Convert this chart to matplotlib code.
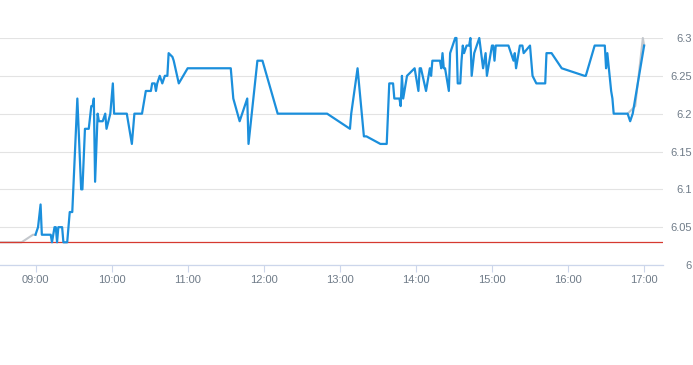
import matplotlib
matplotlib.use("Agg")
import matplotlib.pyplot as plt
import matplotlib.dates as mdates
import pandas as pd

day = "2024-01-02 "

# main intraday series
times = ["09:00", "09:02", "09:04", "09:05", "09:12", "09:13", "09:15", "09:16", "09:17", "09:18",
         "09:21", "09:22", "09:25", "09:27", "09:29", "09:33", "09:36", "09:37", "09:39", "09:42",
         "09:44", "09:45", "09:46", "09:47", "09:49", "09:50", "09:53", "09:55", "09:56", "09:59",
         "10:01", "10:02", "10:12", "10:16", "10:18", "10:24", "10:27", "10:31", "10:32", "10:34",
         "10:35", "10:36", "10:38", "10:40", "10:42", "10:44", "10:45", "10:48", "10:49", "10:53",
         "11:00", "11:34", "11:36", "11:41", "11:47", "11:48", "11:55", "11:59", "12:11", "12:50",
         "13:08", "13:09", "13:14", "13:19", "13:21", "13:32", "13:37", "13:39", "13:42", "13:43",
         "13:47", "13:48", "13:49", "13:50", "13:53", "13:56", "13:59", "14:02", "14:03", "14:04",
         "14:08", "14:11", "14:12", "14:13", "14:19", "14:20", "14:21", "14:22", "14:23", "14:26",
         "14:27", "14:29", "14:31", "14:32", "14:33", "14:35", "14:36", "14:37", "14:38", "14:40",
         "14:42", "14:43", "14:44", "14:46", "14:48", "14:50", "14:53", "14:55", "14:56", "14:59",
         "15:00", "15:01", "15:02", "15:03", "15:13", "15:17", "15:18", "15:19", "15:22", "15:24",
         "15:25", "15:30", "15:32", "15:35", "15:42", "15:43", "15:47", "15:55", "16:13", "16:14",
         "16:21", "16:29", "16:30", "16:31", "16:34", "16:35", "16:36", "16:47", "16:49", "16:51",
         "17:00"]
prices = [6.04, 6.05, 6.08, 6.04, 6.04, 6.03, 6.05, 6.05, 6.03, 6.05,
          6.05, 6.03, 6.03, 6.07, 6.07, 6.22, 6.10, 6.10, 6.18, 6.18,
          6.21, 6.21, 6.22, 6.11, 6.20, 6.19, 6.19, 6.20, 6.18, 6.20,
          6.24, 6.20, 6.20, 6.16, 6.20, 6.20, 6.23, 6.23, 6.24, 6.24,
          6.23, 6.24, 6.25, 6.24, 6.25, 6.25, 6.28, 6.275, 6.27, 6.24,
          6.26, 6.26, 6.22, 6.19, 6.22, 6.16, 6.27, 6.27, 6.20, 6.20,
          6.18, 6.20, 6.26, 6.17, 6.17, 6.16, 6.16, 6.24, 6.24, 6.22,
          6.22, 6.21, 6.25, 6.22, 6.25, 6.255, 6.26, 6.23, 6.26, 6.26,
          6.23, 6.26, 6.25, 6.27, 6.27, 6.26, 6.28, 6.26, 6.26, 6.23,
          6.28, 6.29, 6.30, 6.30, 6.24, 6.24, 6.27, 6.29, 6.28, 6.29,
          6.29, 6.30, 6.25, 6.28, 6.29, 6.30, 6.26, 6.28, 6.25, 6.28,
          6.29, 6.29, 6.27, 6.29, 6.29, 6.27, 6.28, 6.26, 6.29, 6.29,
          6.28, 6.29, 6.25, 6.24, 6.24, 6.28, 6.28, 6.26, 6.25, 6.25,
          6.29, 6.29, 6.26, 6.28, 6.23, 6.22, 6.20, 6.20, 6.19, 6.20,
          6.29]

# pre-open and closing auction (grey)
pre_times = ["08:32", "08:49", "08:58", "09:00"]
pre_prices = [6.03, 6.03, 6.04, 6.04]
post_times = ["16:47", "16:53", "16:59", "17:00"]
post_prices = [6.20, 6.21, 6.30, 6.29]

prev_close = 6.03
y_ticks = [6.0, 6.05, 6.1, 6.15, 6.2, 6.25, 6.3]
y_labels = ["6", "6.05", "6.1", "6.15", "6.2", "6.25", "6.3"]

to_dt = lambda ts: pd.to_datetime([day + t for t in ts])

W, H = 693, 365
fig = plt.figure(figsize=(W / 100, H / 100), dpi=100)
ax = fig.add_axes([0, 100 / H, 662.5 / W, 227 / H])

ax.plot(to_dt(pre_times), pre_prices, color="#c3c7cc", lw=1.5, clip_on=False, zorder=2)
ax.plot(to_dt(post_times), post_prices, color="#c3c7cc", lw=1.5, clip_on=False, zorder=2)
ax.axhline(prev_close, color="#d63a30", lw=0.9, zorder=2)
ax.plot(to_dt(times), prices, color="#1b8fdc", lw=1.6, clip_on=False, zorder=3)

ax.set_xlim(pd.Timestamp(day + "08:32"), pd.Timestamp(day + "17:14:30"))
ax.set_ylim(6.0, 6.3)

ax.set_yticks(y_ticks)
ax.set_yticklabels(y_labels)
ax.yaxis.tick_right()
ax.grid(axis="y", color="#e3e3e3", lw=0.8)
ax.set_axisbelow(True)
ax.tick_params(axis="y", length=0, pad=21, labelsize=8, labelcolor="#6f7b88")
for lab in ax.get_yticklabels():
    lab.set_horizontalalignment("right")

ax.xaxis.set_major_locator(mdates.HourLocator())
ax.xaxis.set_major_formatter(mdates.DateFormatter("%H:%M"))
ax.tick_params(axis="x", length=5, width=0.8, color="#ccd6eb", pad=2,
               labelsize=8, labelcolor="#6f7b88")

for side in ["top", "left", "right"]:
    ax.spines[side].set_visible(False)
ax.spines["bottom"].set_color("#ccd6eb")
ax.spines["bottom"].set_linewidth(0.9)

for lab in ax.get_xticklabels() + ax.get_yticklabels():
    lab.set_family("Liberation Sans")

fig.savefig("out.png", dpi=100)
